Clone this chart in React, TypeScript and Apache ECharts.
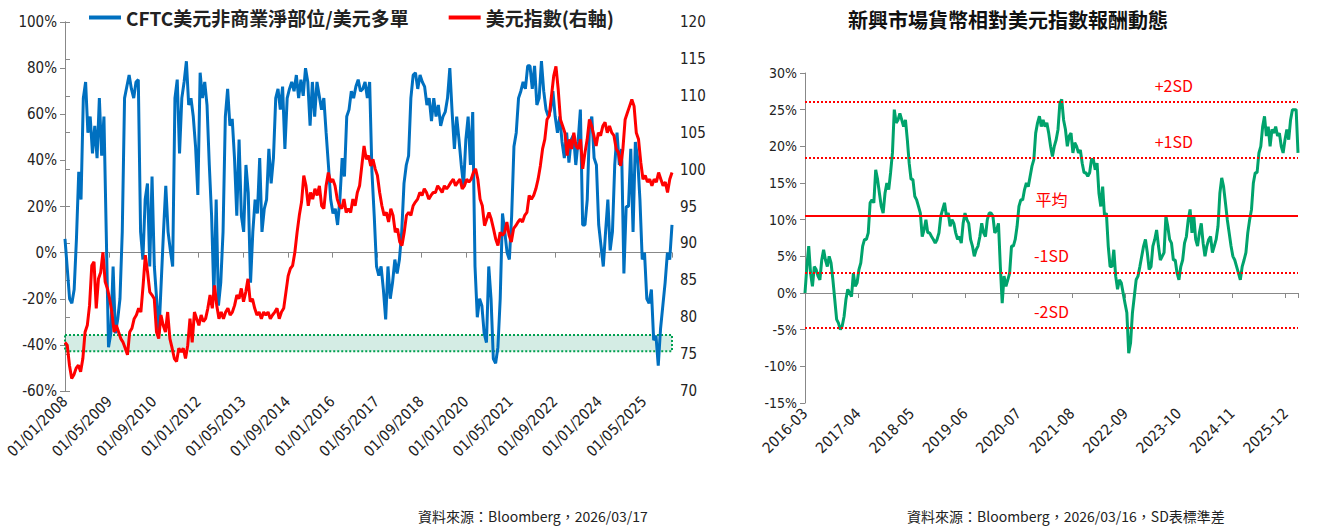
import { useEffect, useRef } from "react";
import * as echarts from "echarts";

// CFTC 美元非商業淨部位/美元多單 (%), 2008/01 ~ 2026/03
const cftcNet = [
  6, -7, -20, -22, -16, 6, 35, 23, 67, 74, 52, 59, 43, 55, 41, 67, 42, 59, 9, -41, -35, -6, -35, -29, -20, 9, 67, 72, 77, 71,
  67, 74, 75, 9, -3, 23, 30, -6, 33, -6, -20, -35, -13, 9, 29, 9, 1, -6, 67, 75, 43, 67, 74, 83, 64, 67, 59, 46, 25, 78,
  67, 74, 64, 38, 16, -19, 23, -23, -13, 9, 59, 71, 55, 58, 41, 16, 49, 16, 9, 38, 26, -13, 9, 23, 17, 41, 9, 19, 23, 45,
  30, 41, 67, 71, 62, 72, 45, 67, 71, 74, 70, 77, 67, 75, 68, 80, 74, 55, 74, 59, 74, 68, 62, 67, 52, 38, 23, 17, 19, 12,
  23, 41, 33, 59, 62, 70, 67, 72, 75, 70, 71, 74, 67, 74, 35, 16, -6, -10, -6, -16, -29, -6, -20, -13, -3, -9, -3, 9, 30, 38,
  42, 67, 77, 78, 71, 77, 74, 72, 64, 67, 57, 67, 59, 64, 55, 59, 61, 67, 80, 61, 45, 59, 49, 38, 29, 49, 59, 38, 61, -6,
  -28, -20, -23, -35, -39, -6, -20, -46, -48, -41, -20, 17, 9, 0, -3, 16, 46, 52, 67, 70, 74, 71, 81, 81, 71, 81, 64, 67, 83, 70,
  62, 59, 62, 70, 59, 52, 59, 48, 41, 52, 39, 49, 51, 38, 48, 62, 12, 12, 23, 55, 59, 41, 38, 12, 3, -6, 9, 23, 1, 9,
  38, 52, 38, 45, -9, 20, 20, 45, 9, 48, 41, 23, -3, 0, -20, -22, -16, -38, -36, -49, -33, -23, -13, 0, -3, 12,
];

// 美元指數 (右軸)
const dxy = [
  76.6, 76.2, 73.5, 71.7, 72.2, 73.1, 73.5, 72.6, 74.4, 78.0, 78.9, 81.6, 87.0, 87.5, 81.2, 85.2, 86.1, 88.8, 84.8, 83.9,
  82.5, 80.7, 78.0, 78.9, 78.0, 77.1, 76.6, 75.8, 74.9, 78.0, 78.5, 79.8, 80.3, 81.2, 80.7, 84.3, 88.4, 86.1, 83.4, 83.0,
  82.5, 78.0, 77.1, 80.3, 78.9, 78.0, 80.7, 77.1, 75.8, 74.4, 74.0, 75.8, 75.3, 75.8, 74.4, 76.2, 79.8, 76.6, 80.7, 79.8,
  78.9, 80.3, 79.4, 79.8, 81.2, 83.0, 81.2, 84.3, 81.6, 79.8, 80.7, 79.8, 80.7, 81.2, 80.3, 80.7, 81.6, 83.0, 82.5, 83.9,
  82.1, 83.4, 85.2, 82.1, 82.5, 81.2, 80.3, 80.7, 79.8, 80.7, 80.3, 80.7, 79.8, 80.3, 80.7, 81.2, 79.8, 80.7, 81.2, 83.4,
  85.6, 86.6, 87.0, 88.8, 91.5, 93.8, 95.6, 99.2, 97.8, 95.1, 96.9, 96.0, 97.4, 96.5, 97.8, 95.1, 94.7, 97.8, 99.6, 98.3,
  98.7, 97.8, 96.0, 95.1, 94.7, 96.0, 94.2, 94.7, 94.2, 96.0, 95.1, 96.9, 97.8, 100.5, 103.2, 101.4, 101.9, 100.5, 101.4, 100.1,
  99.2, 96.9, 95.1, 93.8, 94.2, 92.9, 94.7, 93.8, 91.5, 92.0, 90.2, 89.7, 91.5, 93.8, 94.2, 93.8, 95.1, 95.6, 96.0, 96.9,
  96.5, 97.4, 96.9, 96.0, 96.5, 96.9, 96.9, 97.8, 97.4, 96.9, 97.8, 97.4, 97.8, 98.3, 98.7, 97.8, 98.3, 98.7, 97.4, 97.8,
  98.7, 98.3, 98.7, 99.6, 100.1, 98.7, 96.0, 95.1, 92.4, 93.3, 94.2, 93.3, 92.0, 90.6, 89.7, 91.5, 91.1, 91.5, 92.9, 91.1,
  90.2, 92.0, 92.4, 92.9, 93.3, 92.9, 93.8, 94.2, 96.5, 96.0, 96.5, 97.4, 98.7, 100.5, 102.8, 104.1, 106.8, 107.3, 110.0, 112.7,
  114.0, 110.9, 106.8, 105.9, 105.0, 101.9, 104.1, 102.8, 105.0, 103.2, 102.8, 104.1, 100.1, 102.3, 104.1, 106.8, 105.9, 104.6, 103.2, 105.0,
  104.6, 105.9, 106.4, 105.0, 105.9, 105.0, 104.6, 102.8, 102.3, 100.5, 102.8, 106.8, 107.7, 108.6, 109.5, 108.6, 105.0, 104.1, 101.0, 98.7,
  99.2, 98.3, 98.7, 97.8, 98.7, 98.3, 99.6, 98.7, 97.8, 98.3, 96.9, 98.7, 99.6,
];

// 新興市場貨幣相對美元指數報酬 (%), 2016/03 ~ 2026/03
const emReturn = [
  0, 3.6, 6.4, 2.7, 0.9, 3.6, 3.2, 2.3, 1.8, 4.5, 5.9, 4.5, 3.6, 5.0, 4.1, 1.8, -0.9, -3.6, -4.1, -5.0,
  -4.5, -3.2, -0.9, 0.5, 0, -0.5, 2.7, 0.9, 1.4, 3.2, 4.1, 6.4, 7.3, 7.3, 8.2, 12.3, 12.7, 12.3, 16.8, 15.5,
  13.6, 11.8, 10.9, 13.6, 15.0, 14.1, 16.4, 19.1, 25.0, 23.2, 23.6, 24.5, 23.6, 22.7, 23.6, 20.9, 17.7, 15.5, 15.5, 13.2,
  12.7, 11.8, 10.9, 7.7, 8.6, 10.0, 8.2, 8.2, 7.7, 7.3, 6.8, 7.3, 8.2, 10.5, 11.4, 12.3, 10.5, 10.9, 9.1, 10.0,
  9.5, 8.2, 7.3, 7.7, 6.8, 9.5, 10.9, 10.0, 9.5, 7.3, 6.4, 5.0, 5.9, 6.4, 7.7, 9.5, 8.2, 7.7, 10.0, 10.9,
  10.9, 10.5, 8.2, 8.6, 9.5, 3.6, -1.4, 2.3, 0.9, 1.8, 2.7, 6.4, 6.4, 7.3, 9.1, 11.8, 12.7, 12.7, 14.1, 15.0,
  14.5, 15.9, 17.3, 18.2, 21.8, 23.2, 24.1, 22.7, 23.6, 22.7, 23.2, 21.8, 20.0, 18.6, 20.0, 20.9, 22.3, 25.9, 26.4, 23.6,
  22.3, 20.0, 21.4, 21.8, 19.1, 20.5, 20.0, 19.1, 19.5, 17.7, 16.4, 16.4, 15.9, 16.4, 18.2, 18.2, 16.8, 17.7, 13.6, 11.8,
  14.5, 10.5, 10.9, 6.4, 3.6, 3.6, 5.9, 2.3, 0.5, 1.8, 1.4, 0, -1.4, -2.7, -8.2, -6.8, -2.7, -0.5, 1.8, 2.3,
  3.6, 5.0, 6.4, 7.3, 5.5, 3.2, 3.6, 6.4, 7.3, 8.6, 6.4, 4.5, 5.0, 5.5, 10.5, 9.1, 7.3, 6.8, 4.5, 4.5,
  2.7, 1.8, 3.6, 4.5, 6.8, 7.7, 10.0, 11.4, 8.2, 10.5, 7.3, 6.4, 8.2, 9.5, 6.8, 5.0, 6.4, 7.3, 7.7, 5.5,
  6.4, 7.3, 9.1, 13.6, 15.7, 14.5, 12.3, 10.0, 8.2, 6.4, 5.0, 4.5, 3.6, 2.7, 1.8, 3.6, 4.5, 5.5, 8.2, 10.0,
  11.4, 15.0, 16.4, 16.4, 19.1, 20.0, 22.7, 24.1, 21.4, 22.7, 20.0, 22.3, 21.8, 22.7, 21.4, 21.8, 20.0, 19.1, 20.9, 22.3,
  20.9, 23.6, 25.0, 25.0, 25.0, 19.1,
];

// 標準差帶
const sdLevels = [
  { name: "+2SD", value: 26.1 },
  { name: "+1SD", value: 18.4 },
  { name: "平均", value: 10.5 },
  { name: "-1SD", value: 2.8 },
  { name: "-2SD", value: -4.8 },
];

const leftMonths = 218; // 2008/01 -> 2026/03
const rightMonths = 120; // 2016/03 -> 2026/03

const font = "'DejaVu Sans Condensed', 'Liberation Sans', 'Noto Sans CJK TC', sans-serif";
const cjk = "'Noto Sans CJK TC', sans-serif";

const toSeries = (vals: number[], span: number) =>
  vals.map((v, i) => [(i * span) / (vals.length - 1), v]);

const leftLabel = (m: number) => {
  const y = 2008 + Math.floor(m / 12);
  const mo = (m % 12) + 1;
  return `01/${String(mo).padStart(2, "0")}/${y}`;
};
const rightLabel = (m: number) => {
  const t = 2 + m;
  const y = 2016 + Math.floor(t / 12);
  const mo = (t % 12) + 1;
  return `${y}-${String(mo).padStart(2, "0")}`;
};

export default function App() {
  const ref = useRef<HTMLDivElement>(null);

  useEffect(() => {
    document.body.style.margin = "0";
    const chart = echarts.init(ref.current!, null, { renderer: "svg" });
    const axisGray = { lineStyle: { color: "#888" } };
    const sdMarks = sdLevels.map((s) => ({
      yAxis: s.value,
      lineStyle:
        s.name === "平均"
          ? { color: "#ff0000", type: "solid" as const, width: 2 }
          : { color: "#ff0000", type: "dotted" as const, width: 2 },
      label: {
        show: true,
        formatter: s.name,
        color: "#ff0000",
        fontSize: 16,
        fontFamily: cjk,
        position: s.name.startsWith("+") ? ("insideEndTop" as const) : ("insideMiddleTop" as const),
        padding: s.name.startsWith("+") ? [0, 100, 4, 0] : [0, 0, 4, 0],
      },
    }));

    chart.setOption({
      animation: false,
      title: {
        text: "新興市場貨幣相對美元指數報酬動態",
        left: 1003,
        textAlign: "center",
        top: 4,
        textStyle: { fontFamily: cjk, fontSize: 20, fontWeight: "bold", color: "#111" },
      },
      legend: {
        left: 84,
        top: 3,
        itemWidth: 32,
        itemGap: 40,
        icon: "rect",
        itemHeight: 4,
        textStyle: { fontFamily: cjk, fontSize: 19, fontWeight: "bold", color: "#222" },
        data: ["CFTC美元非商業淨部位/美元多單", "美元指數(右軸)"],
      },
      grid: [
        { left: 65, right: 649, top: 22, bottom: 140 },
        { left: 805, right: 23, top: 73, bottom: 128 },
      ],
      xAxis: [
        {
          type: "value", gridIndex: 0, min: 0, max: leftMonths, interval: 16,
          axisLine: { show: false }, axisTick: { show: false }, splitLine: { show: false },
          axisLabel: { rotate: 45, fontSize: 15, fontFamily: font, color: "#222", formatter: leftLabel, showMaxLabel: false },
        },
        {
          type: "value", gridIndex: 0, min: 0, max: leftMonths, interval: 16,
          axisLine: { onZero: true, onZeroAxisIndex: 0, ...axisGray }, axisTick: { inside: true, ...axisGray },
          axisLabel: { show: false }, splitLine: { show: false },
        },
        {
          type: "value", gridIndex: 1, min: 0, max: rightMonths, interval: 13,
          axisLine: { show: false }, axisTick: { show: false }, splitLine: { show: false },
          axisLabel: { rotate: 45, fontSize: 15, fontFamily: font, color: "#222", formatter: rightLabel, showMaxLabel: false },
        },
        {
          type: "value", gridIndex: 1, min: 0, max: rightMonths, interval: 13,
          axisLine: { onZero: true, onZeroAxisIndex: 2, ...axisGray }, axisTick: { inside: true, ...axisGray },
          axisLabel: { show: false }, splitLine: { show: false },
        },
      ],
      yAxis: [
        {
          type: "value", gridIndex: 0, min: -60, max: 100, interval: 20,
          axisLine: { show: true, ...axisGray }, axisTick: { show: true, ...axisGray }, splitLine: { show: false },
          axisLabel: { formatter: "{value}%", fontSize: 15, fontFamily: font, color: "#222" },
        },
        {
          type: "value", gridIndex: 0, min: 70, max: 120, interval: 5, position: "right",
          axisLine: { show: true, ...axisGray }, axisTick: { show: true, ...axisGray }, splitLine: { show: false },
          axisLabel: { fontSize: 15, fontFamily: font, color: "#222" },
        },
        {
          type: "value", gridIndex: 1, min: -15, max: 30, interval: 5,
          axisLine: { show: true, ...axisGray }, axisTick: { show: true, ...axisGray }, splitLine: { show: false },
          axisLabel: { formatter: "{value}%", fontSize: 14, fontFamily: font, color: "#222" },
        },
      ],
      series: [
        {
          name: "CFTC美元非商業淨部位/美元多單",
          type: "line", xAxisIndex: 0, yAxisIndex: 0, showSymbol: false,
          data: toSeries(cftcNet, leftMonths),
          lineStyle: { color: "#0070c0", width: 3 }, itemStyle: { color: "#0070c0" },
          z: 2,
        },
        {
          name: "美元指數(右軸)",
          type: "line", xAxisIndex: 0, yAxisIndex: 1, showSymbol: false,
          data: toSeries(dxy, leftMonths),
          lineStyle: { color: "#ff0000", width: 3 }, itemStyle: { color: "#ff0000" },
          z: 3,
          markArea: {
            silent: true,
            itemStyle: { color: "rgba(60,170,130,0.22)", borderColor: "#00a050", borderWidth: 2, borderType: "dotted" },
            data: [[{ coord: [0, 77.6] }, { coord: [leftMonths, 75.4] }]],
          },
        },
        {
          name: "新興市場",
          type: "line", xAxisIndex: 2, yAxisIndex: 2, showSymbol: false,
          data: toSeries(emReturn, rightMonths),
          lineStyle: { color: "#00a36c", width: 3 }, itemStyle: { color: "#00a36c" },
          markLine: { silent: true, symbol: "none", data: sdMarks },
        },
      ],
      graphic: [
        { type: "text", left: 418, top: 509, style: { text: "資料來源：Bloomberg，2026/03/17", font: `14px ${cjk}`, fill: "#222" } },
        { type: "text", left: 907, top: 509, style: { text: "資料來源：Bloomberg，2026/03/16，SD表標準差", font: `14px ${cjk}`, fill: "#222" } },
      ],
    });

    return () => chart.dispose();
  }, []);

  return <div ref={ref} style={{ width: 1321, height: 531 }} />;
}
